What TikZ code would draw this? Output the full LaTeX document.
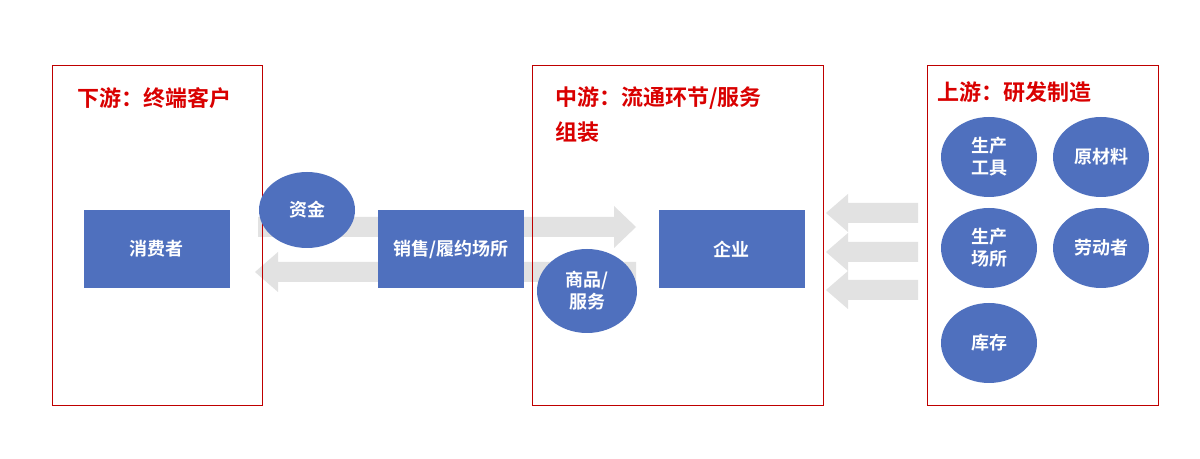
\documentclass[tikz,border=0pt]{standalone}
\usepackage{fontspec}
\usetikzlibrary{shapes.geometric}
\setmainfont{Noto Sans CJK SC}[BoldFont={* Bold}]
\begin{document}
\begin{tikzpicture}[x=0.5pt,y=-0.5pt,
 frame/.style={draw=red!75!black,line width=0.6pt},
 title/.style={text=red!85!black,font=\bfseries\fontsize{11}{14}\selectfont,anchor=west,inner sep=0},
 bluebox/.style={fill=bblue,text=white,font=\bfseries\fontsize{9}{11}\selectfont,minimum width=73pt,minimum height=39pt,inner sep=0},
 blueell/.style={ellipse,fill=bblue,text=white,font=\bfseries\fontsize{9}{11}\selectfont,align=center,inner sep=0},
 garrow/.style={fill=agray,draw=none}]
\definecolor{bblue}{HTML}{4F70BE}
\definecolor{agray}{HTML}{E2E2E2}
\useasboundingbox (0,0) rectangle (1200,459);
\fill[white] (0,0) rectangle (1200,459);
% arrows
\fill[garrow] (258,217) -- (614,217) -- (614,206) -- (636,227) -- (614,248) -- (614,237) -- (258,237) -- cycle;
\fill[garrow] (636,262) -- (278,262) -- (278,252) -- (255,272) -- (278,292) -- (278,282) -- (636,282) -- cycle;
\foreach \c in {213,252,290}{
 \fill[garrow] (918,\c-10) -- (848,\c-10) -- (848,\c-19) -- (826,\c) -- (848,\c+19) -- (848,\c+10) -- (918,\c+10) -- cycle;}
% frames
\node[frame,minimum width=105pt,minimum height=170pt,anchor=north west,inner sep=0] (down) at (52,65) {};
\node[frame,minimum width=145.5pt,minimum height=170pt,anchor=north west,inner sep=0] (mid) at (532,65) {};
\node[frame,minimum width=115.5pt,minimum height=170pt,anchor=north west,inner sep=0] (up) at (927,65) {};
\node[title] (t1) at (77,98) {下游：终端客户};
\node[title] (t2) at (555,98) {中游：流通环节/服务};
\node[title] (t2b) at (555,132) {组装};
\node[title] (t3) at (937,92) {上游：研发制造};
% boxes
\node[bluebox] (cons) at (156.5,249) {消费者};
\node[bluebox] (sale) at (451,249) {销售/履约场所};
\node[bluebox] (ent) at (731.5,249) {企业};
\node[blueell,minimum width=48pt,minimum height=38pt] (fund) at (307,210) {资金};
\node[blueell,minimum width=50pt,minimum height=42pt] (goods) at (587,291) {商品/\\服务};
\tikzset{re/.style={blueell,minimum width=48pt,minimum height=40pt}}
\node[re] (tool) at (989,157) {生产\\工具};
\node[re] (raw) at (1101,157) {原材料};
\node[re] (site) at (989,248) {生产\\场所};
\node[re] (lab) at (1101,248) {劳动者};
\node[re] (stock) at (989,343) {库存};
\end{tikzpicture}
\end{document}
